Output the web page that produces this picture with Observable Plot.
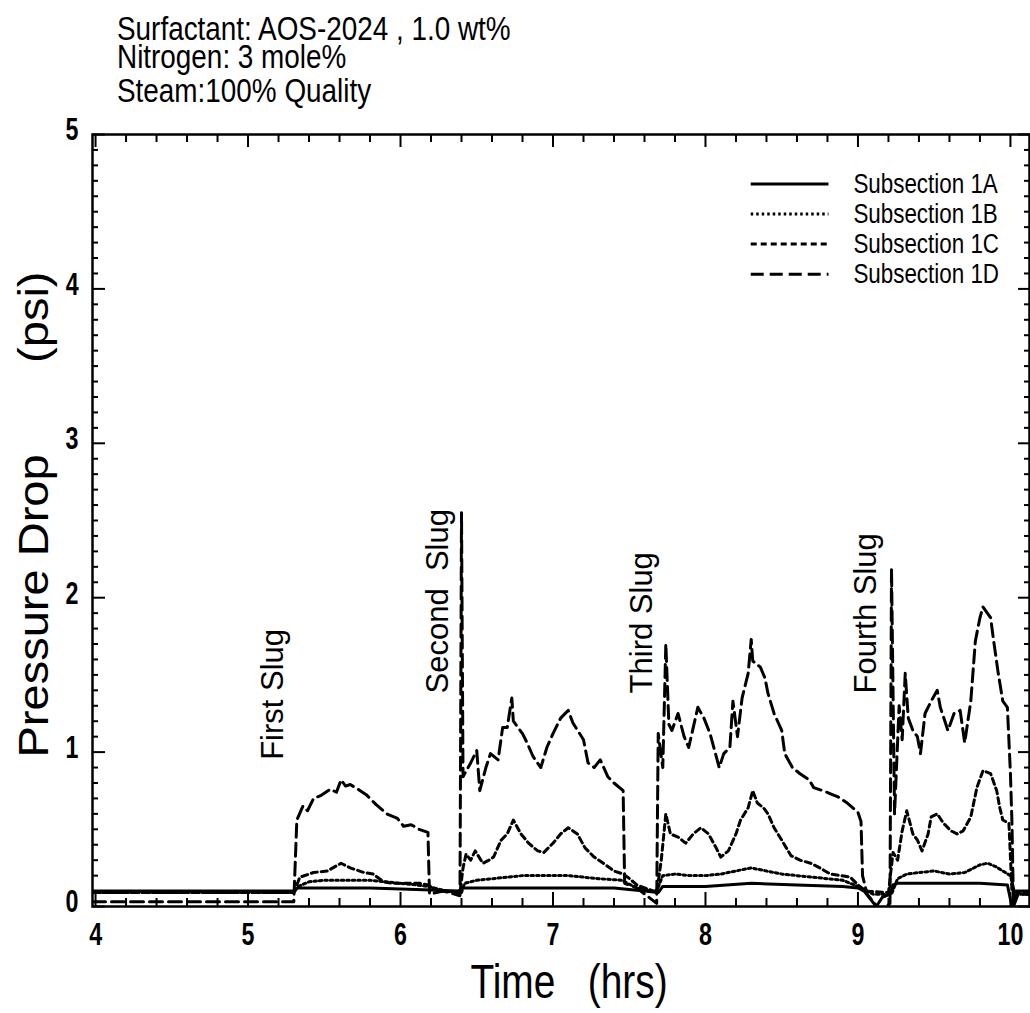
<!DOCTYPE html>
<html><head><meta charset="utf-8">
<script src="https://cdn.jsdelivr.net/npm/d3@7"></script>
<script src="https://cdn.jsdelivr.net/npm/@observablehq/plot@0.6"></script>
<style>
body{margin:0;background:#fff;}
#wrap{width:1030px;}
#title{position:relative;height:112px;font-family:'Liberation Sans',Arial,Helvetica,sans-serif;font-size:34px;color:#000;}
#title div{position:absolute;left:117px;white-space:pre;line-height:28px;height:28px;transform:scaleX(0.82);transform-origin:0 0;}
</style></head><body>
<div id="wrap"><div id="title"></div><div id="chart"></div></div>
<script>
const SANS = "'Liberation Sans',Arial,Helvetica,sans-serif";

// ---------- text ----------
const titleLines = ["Surfactant: AOS-2024 , 1.0 wt%", "Nitrogen: 3 mole%", "Steam:100% Quality"];
const xTitle = "Time\u00a0\u00a0\u00a0(hrs)";
const yTitle = "Pressure Drop\u00a0\u00a0\u00a0\u00a0\u00a0\u00a0\u00a0(psi)";
const seriesNames = ["Subsection 1A", "Subsection 1B", "Subsection 1C", "Subsection 1D"];
const slugLabels = ["First Slug", "Second\u00a0\u00a0Slug", "Third Slug", "Fourth Slug"];
const slugTimes = [5.23, 6.31, 7.65, 9.12];
const slugStart = [0.95, 1.38, 1.38, 1.38];

// ---------- ticks ----------
const xMajorTicks = [4, 5, 6, 7, 8, 9, 10];
const yMajorTicks = [0, 1, 2, 3, 4, 5];
const xMinorTicks = d3.range(40, 101, 2).map(d => d / 10).filter(d => !Number.isInteger(d));
const yMinorTicks = d3.range(0, 51, 1).map(d => d / 10).filter(d => !Number.isInteger(d));

// ---------- data: [time (hrs), pressure drop (psi)] ----------
const sub1A = [
 [3.98,0.10],[5.30,0.10],[5.32,0.12],[5.5,0.12],[5.8,0.12],[6.1,0.11],[6.38,0.10],[6.41,0.12],[6.6,0.12],
 [7.0,0.12],[7.4,0.12],[7.6,0.10],[7.69,0.09],[7.72,0.13],[8.0,0.13],[8.3,0.15],[8.6,0.14],[8.9,0.13],
 [9.0,0.12],[9.04,0.10],[9.12,0.0],[9.16,0.06],[9.21,0.08],[9.23,0.14],[9.26,0.15],[9.5,0.15],[9.8,0.15],
 [9.98,0.14],[10.01,0.0],[10.04,0.10],[10.12,0.10]
];
const sub1B = [
 [3.98,0.09],[5.30,0.09],[5.33,0.13],[5.40,0.16],[5.5,0.17],[5.6,0.17],[5.7,0.17],[5.8,0.17],[5.9,0.16],
 [6.0,0.15],[6.1,0.14],[6.18,0.13],[6.3,0.10],[6.40,0.09],[6.42,0.15],[6.5,0.17],[6.6,0.18],[6.7,0.19],
 [6.8,0.20],[6.9,0.20],[7.0,0.20],[7.1,0.20],[7.2,0.19],[7.3,0.18],[7.45,0.17],[7.55,0.12],[7.68,0.10],
 [7.72,0.20],[7.8,0.21],[7.9,0.20],[8.0,0.20],[8.1,0.21],[8.2,0.23],[8.3,0.25],[8.4,0.23],[8.5,0.21],
 [8.6,0.20],[8.7,0.19],[8.8,0.18],[8.9,0.17],[9.0,0.13],[9.1,0.08],[9.22,0.08],[9.26,0.18],[9.32,0.21],
 [9.4,0.22],[9.5,0.23],[9.6,0.21],[9.7,0.22],[9.8,0.27],[9.85,0.28],[9.9,0.26],[9.95,0.23],[10.0,0.20],
 [10.03,0.08],[10.12,0.08]
];
const sub1C = [
 [3.98,0.09],[5.30,0.09],[5.34,0.19],[5.43,0.22],[5.52,0.23],[5.61,0.28],[5.67,0.25],[5.76,0.22],[5.82,0.21],
 [5.89,0.16],[5.95,0.15],[6.05,0.15],[6.13,0.15],[6.18,0.14],[6.25,0.10],[6.39,0.09],[6.41,0.25],[6.43,0.34],
 [6.46,0.30],[6.49,0.36],[6.54,0.28],[6.58,0.30],[6.61,0.32],[6.66,0.43],[6.70,0.47],[6.74,0.56],[6.79,0.47],
 [6.84,0.41],[6.90,0.36],[6.94,0.35],[7.00,0.41],[7.05,0.47],[7.10,0.51],[7.16,0.47],[7.21,0.38],[7.27,0.32],
 [7.33,0.28],[7.40,0.23],[7.46,0.21],[7.49,0.19],[7.55,0.14],[7.68,0.09],[7.71,0.30],[7.74,0.60],[7.77,0.47],
 [7.82,0.45],[7.87,0.41],[7.92,0.47],[7.97,0.51],[8.02,0.47],[8.07,0.38],[8.10,0.32],[8.15,0.36],[8.20,0.47],
 [8.23,0.56],[8.28,0.64],[8.31,0.75],[8.34,0.67],[8.38,0.64],[8.41,0.60],[8.45,0.51],[8.50,0.43],[8.56,0.33],
 [8.62,0.30],[8.69,0.28],[8.75,0.25],[8.82,0.21],[8.89,0.20],[8.95,0.19],[9.0,0.14],[9.05,0.10],[9.2,0.09],
 [9.23,0.35],[9.26,0.30],[9.29,0.49],[9.32,0.62],[9.36,0.47],[9.39,0.43],[9.42,0.36],[9.46,0.47],[9.48,0.58],
 [9.52,0.60],[9.56,0.54],[9.61,0.49],[9.65,0.47],[9.69,0.49],[9.74,0.58],[9.78,0.77],[9.82,0.88],[9.87,0.86],
 [9.91,0.75],[9.93,0.64],[9.95,0.56],[9.99,0.54],[10.01,0.10],[10.04,0.09],[10.12,0.09]
];
const sub1D = [
 [3.98,0.03],[5.30,0.03],[5.32,0.56],[5.36,0.65],[5.39,0.62],[5.43,0.70],[5.48,0.72],[5.54,0.76],[5.58,0.74],
 [5.61,0.82],[5.64,0.78],[5.67,0.79],[5.72,0.76],[5.78,0.72],[5.84,0.66],[5.91,0.60],[5.98,0.57],[6.02,0.52],
 [6.07,0.53],[6.12,0.50],[6.18,0.48],[6.19,0.08],[6.28,0.10],[6.39,0.07],
 [6.40,2.55],[6.41,0.84],[6.46,0.93],[6.50,1.01],[6.52,0.75],[6.56,0.90],[6.59,0.99],[6.64,0.95],[6.67,1.16],
 [6.70,1.16],[6.73,1.35],[6.74,1.20],[6.80,1.12],[6.83,1.06],[6.87,0.97],[6.92,0.90],[6.96,1.03],[7.00,1.12],
 [7.05,1.22],[7.10,1.27],[7.13,1.19],[7.20,1.08],[7.23,0.93],[7.27,0.90],[7.31,0.95],[7.36,0.84],[7.40,0.80],
 [7.46,0.75],[7.47,0.15],[7.55,0.12],[7.68,0.02],
 [7.69,1.12],[7.72,0.90],[7.74,1.70],[7.76,1.18],[7.78,1.14],[7.82,1.25],[7.86,1.10],[7.89,1.03],[7.92,1.16],
 [7.95,1.29],[7.99,1.22],[8.03,1.12],[8.09,0.90],[8.12,0.99],[8.16,1.03],[8.18,1.33],[8.21,1.10],[8.24,1.35],
 [8.28,1.51],[8.30,1.73],[8.31,1.59],[8.36,1.55],[8.39,1.48],[8.41,1.38],[8.45,1.25],[8.50,1.14],[8.52,0.99],
 [8.57,0.90],[8.62,0.86],[8.68,0.82],[8.71,0.77],[8.77,0.75],[8.82,0.73],[8.87,0.71],[8.93,0.67],[9.00,0.61],
 [9.02,0.55],[9.03,0.20],[9.06,0.08],[9.15,-0.03],[9.21,0.02],
 [9.22,2.19],[9.24,0.60],[9.27,1.30],[9.29,1.08],[9.31,1.51],[9.33,1.22],[9.36,1.14],[9.39,1.10],[9.41,0.99],
 [9.44,1.25],[9.48,1.33],[9.52,1.40],[9.54,1.29],[9.59,1.14],[9.63,1.25],[9.67,1.27],[9.70,1.06],[9.74,1.33],
 [9.77,1.72],[9.80,1.87],[9.82,1.94],[9.87,1.87],[9.89,1.72],[9.92,1.51],[9.95,1.33],[9.98,1.29],[10.00,0.86],
 [10.01,0.54],[10.02,0.0],[10.05,0.08],[10.12,0.08]
];
const allSeries = [sub1A, sub1B, sub1C, sub1D];

// ---------- styles ----------
const styles = [
  {dash: null, width: 3},
  {dash: "2.5,3", width: 3},
  {dash: "6,4", width: 3},
  {dash: "13,6", width: 3}
];
const legendX1 = 8.30, legendX2 = 8.81, legendTextX = 8.97, legendTop = 4.68, legendStep = 0.195;

// ---------- title ----------
const titleTops = [14, 42, 76];
const tdiv = document.getElementById("title");
titleLines.forEach((s, i) => {
  const d = document.createElement("div");
  d.textContent = s;
  d.style.top = titleTops[i] + "px";
  tdiv.appendChild(d);
});

// ---------- chart ----------
const axisCommon = {label: null, stroke: "#000", strokeWidth: 2};
const fmt = d => `${d}`;
const marks = [
  Plot.frame({stroke: "#000", strokeWidth: 2.5}),
  // ticks (inward)
  Plot.axisX(xMajorTicks, {...axisCommon, anchor: "bottom", tickSize: -14, fill: "none"}),
  Plot.axisX(xMinorTicks, {...axisCommon, anchor: "bottom", tickSize: -8, fill: "none"}),
  Plot.axisX(xMajorTicks, {...axisCommon, anchor: "top", tickSize: -12, fill: "none"}),
  Plot.axisX(xMinorTicks, {...axisCommon, anchor: "top", tickSize: -7, fill: "none"}),
  Plot.axisY(yMajorTicks, {...axisCommon, anchor: "left", tickSize: -13, fill: "none"}),
  Plot.axisY(yMinorTicks, {...axisCommon, anchor: "left", tickSize: -6, fill: "none"}),
  Plot.axisY(yMajorTicks, {...axisCommon, anchor: "right", tickSize: -12, fill: "none"}),
  Plot.axisY(yMinorTicks, {...axisCommon, anchor: "right", tickSize: -6, fill: "none"}),
  // tick labels
  Plot.text(xMajorTicks, {x: d => d, text: fmt, frameAnchor: "bottom", lineAnchor: "top", textAnchor: "middle", dy: 16,
    fontSize: 31, fontWeight: "bold", fontFamily: SANS, fill: "#000"}),
  Plot.axisY(yMajorTicks, {label: null, anchor: "left", tickSize: 0, tickPadding: 14, dy: -4, tickFormat: fmt, fontSize: 31, fontWeight: "bold", fontFamily: SANS, fill: "#000"}),
  // data lines
  ...allSeries.map((s, i) => Plot.line(s.map(([t, v]) => ({t, v})), {
    x: "t", y: "v", stroke: "#000", strokeWidth: styles[i].width,
    strokeDasharray: styles[i].dash, strokeLinejoin: "round", clip: true
  })),
  // legend
  ...seriesNames.map((name, i) => Plot.ruleY([legendTop - i * legendStep], {
    x1: legendX1, x2: legendX2, stroke: "#000", strokeWidth: styles[i].width, strokeDasharray: styles[i].dash
  })),
  Plot.text(seriesNames, {x: legendTextX, y: (d, i) => legendTop - i * legendStep, text: d => d,
    textAnchor: "start", fontSize: 28, fontFamily: SANS, fill: "#000"}),
  // slug annotations
  Plot.text(slugLabels, {x: (d, i) => slugTimes[i], y: (d, i) => slugStart[i], text: d => d,
    rotate: -90, textAnchor: "start", lineAnchor: "bottom", fontSize: 31, fontFamily: SANS, fill: "#000"}),
  // axis titles
  Plot.text([xTitle], {frameAnchor: "bottom", textAnchor: "middle", dy: 91, dx: 8, lineAnchor: "bottom", fontSize: 48, fontFamily: SANS, fill: "#000"}),
  Plot.text([yTitle], {frameAnchor: "left", textAnchor: "middle", dx: -45, dy: -6, rotate: -90, lineAnchor: "bottom", fontSize: 42, fontFamily: SANS, fill: "#000"})
];

const chart = Plot.plot({
  width: 1030, height: 901,
  marginTop: 22, marginBottom: 107, marginLeft: 92, marginRight: 1,
  x: {domain: [3.98, 10.125], label: null},
  y: {domain: [0, 5], label: null},
  style: {background: "#fff", color: "#000"},
  marks
});
document.getElementById("chart").appendChild(chart);

// horizontal squeeze of glyphs (condensed Helvetica look), about each text's anchor
const SVGNS = "http://www.w3.org/2000/svg";
function squeezeX(sel, s, anchor) {
  sel.each(function() {
    const parent = this.parentNode;
    const r = this.getBoundingClientRect();
    const ax = anchor === "start" ? r.left : anchor === "end" ? r.right : (r.left + r.right) / 2;
    const p = new DOMPoint(ax, r.top).matrixTransform(parent.getScreenCTM().inverse());
    const g = document.createElementNS(SVGNS, "g");
    g.setAttribute("transform", `translate(${p.x},0) scale(${s},1) translate(${-p.x},0)`);
    parent.insertBefore(g, this);
    g.appendChild(this);
  });
}
const svg = d3.select(chart);
const xLabelTexts = new Set(xMajorTicks.map(fmt));
squeezeX(svg.selectAll('g[aria-label="text"] text').filter(function(){ return xLabelTexts.has(this.textContent); }), 0.75, "middle");
squeezeX(svg.selectAll('g[aria-label="y-axis tick label"] text'), 0.75, "end");
squeezeX(svg.selectAll("text").filter(function(){ return seriesNames.includes(this.textContent); }), 0.8, "start");
squeezeX(svg.selectAll("text").filter(function(){ return this.textContent === xTitle; }), 0.81, "middle");
// stretch y title along its reading direction
svg.selectAll("text").filter(function(){ return this.textContent === yTitle; }).each(function() {
  this.setAttribute("transform", (this.getAttribute("transform") || "") + " scale(1.12,1)");
});
</script>
</body></html>
